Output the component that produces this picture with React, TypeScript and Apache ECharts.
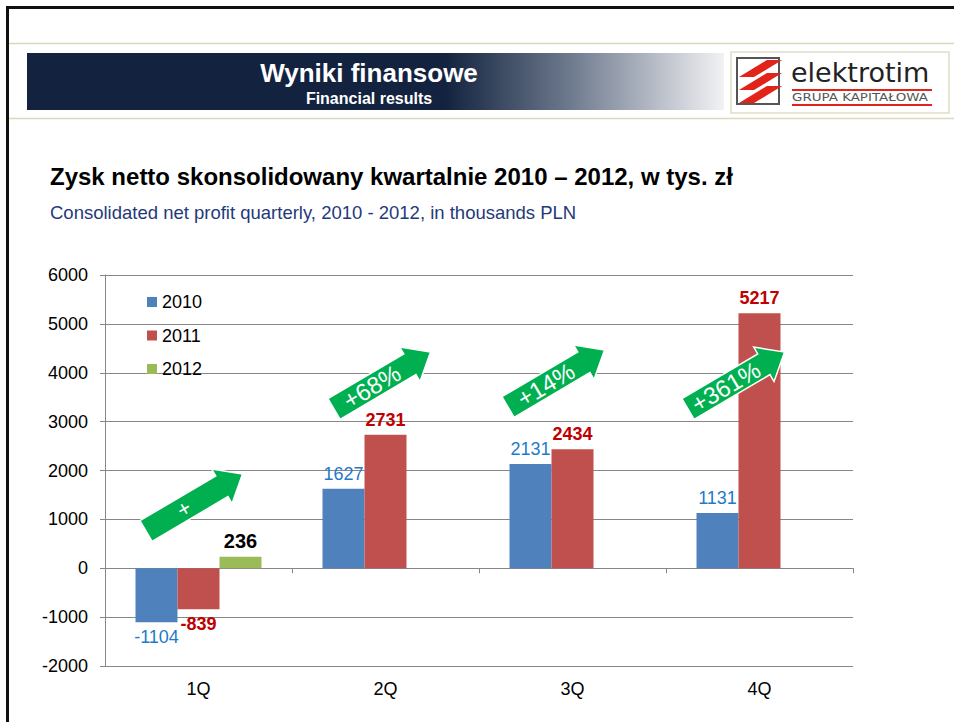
import React, { useEffect, useRef } from "react";
import * as echarts from "echarts";

const categories = ["1Q", "2Q", "3Q", "4Q"];
const seriesNames = ["2010", "2011", "2012"];
const values2010 = [-1104, 1627, 2131, 1131];
const values2011 = [-839, 2731, 2434, 5217];
const values2012: (number | null)[] = [236, null, null, null];
const arrowTexts = ["+", "+68%", "+14%", "+361%"];

const FONT = "'Liberation Sans', Arial, sans-serif";

function arrow(x: number, y: number, text: string, fontSize: number) {
  return {
    type: "group",
    x,
    y,
    rotation: (30.5 * Math.PI) / 180,
    z: 100,
    children: [
      {
        type: "polygon",
        shape: {
          points: [
            [0, -12],
            [88, -12],
            [88, -20],
            [112, 0],
            [88, 20],
            [88, 12],
            [0, 12],
          ],
        },
        style: { fill: "#00B050", stroke: "#ffffff", lineWidth: 1.5 },
        z: 100,
      },
      {
        type: "text",
        x: 44,
        y: 0,
        z: 101,
        style: {
          text,
          fill: "#ffffff",
          fontSize,
          fontFamily: FONT,
          align: "center",
          verticalAlign: "middle",
          textAlign: "center",
          textVerticalAlign: "middle",
        },
      },
    ],
  };
}

export default function App() {
  const ref = useRef<HTMLDivElement>(null);
  useEffect(() => {
    if (!ref.current) return;
    const chart = echarts.init(ref.current, null, { renderer: "svg" });
    const stripes = [60, 73, 86].map((oy) => ({
      type: "polygon",
      shape: {
        points: [
          [739, oy + 17],
          [767, oy],
          [782, oy],
          [754, oy + 17],
        ],
      },
      style: { fill: "#E2231A" },
    }));
    const option = {
      animation: false,
      backgroundColor: "#ffffff",
      textStyle: { fontFamily: FONT },
      grid: { left: 105, right: 101, top: 275, bottom: 56, containLabel: false },
      legend: {
        orient: "vertical",
        left: 142,
        top: 288,
        itemWidth: 10,
        itemHeight: 10,
        itemGap: 15.5,
        icon: "rect",
        data: seriesNames,
        textStyle: { fontSize: 18, color: "#000", lineHeight: 18, fontFamily: FONT },
      },
      xAxis: [
        {
          type: "category",
          data: categories,
          axisLine: { show: false, onZero: false },
          axisTick: { show: false },
          axisLabel: { fontSize: 18, color: "#000", margin: 14, fontFamily: FONT },
        },
        {
          type: "category",
          data: categories,
          position: "bottom",
          axisLine: { show: true, onZero: true, lineStyle: { color: "#868686", width: 1 } },
          axisTick: { show: true, length: 5, lineStyle: { color: "#868686" } },
          axisLabel: { show: false },
          splitLine: { show: false },
        },
      ],
      yAxis: {
        type: "value",
        min: -2000,
        max: 6000,
        interval: 1000,
        axisLine: { show: true, lineStyle: { color: "#868686", width: 1 } },
        axisTick: { show: true, length: 5, lineStyle: { color: "#868686" } },
        axisLabel: {
          fontSize: 18,
          color: "#000",
          margin: 17,
          fontFamily: FONT,
          formatter: (v: number) => String(v),
        },
        splitLine: { show: true, lineStyle: { color: "#868686", width: 1 } },
      },
      series: [
        {
          name: "2010",
          type: "bar",
          xAxisIndex: 0,
          data: values2010,
          barWidth: 42,
          barGap: "0%",
          itemStyle: { color: "#4F81BD" },
          label: {
            show: true,
            position: "outside",
            distance: 6,
            fontSize: 18,
            color: "#1F7AC8",
            fontFamily: FONT,
          },
        },
        {
          name: "2011",
          type: "bar",
          xAxisIndex: 0,
          data: values2011,
          barWidth: 42,
          barGap: "0%",
          itemStyle: { color: "#C0504D" },
          label: {
            show: true,
            position: "outside",
            distance: 6,
            fontSize: 18,
            fontWeight: "bold",
            color: "#C00000",
            fontFamily: FONT,
          },
        },
        {
          name: "2012",
          type: "bar",
          xAxisIndex: 0,
          data: values2012,
          barWidth: 42,
          barGap: "0%",
          itemStyle: { color: "#9BBB59" },
          label: {
            show: true,
            position: "outside",
            distance: 6,
            fontSize: 20,
            fontWeight: "bold",
            color: "#000000",
            fontFamily: FONT,
          },
        },
      ],
      graphic: [
        // page frame
        { type: "line", shape: { x1: 6, y1: 7.5, x2: 954, y2: 7.5 }, style: { stroke: "#111", lineWidth: 3 } },
        { type: "line", shape: { x1: 7.5, y1: 6, x2: 7.5, y2: 722 }, style: { stroke: "#111", lineWidth: 3 } },
        { type: "line", shape: { x1: 9, y1: 43.5, x2: 954, y2: 43.5 }, style: { stroke: "#DCD7BC", lineWidth: 1.5 } },
        { type: "line", shape: { x1: 9, y1: 118.5, x2: 954, y2: 118.5 }, style: { stroke: "#DCD7BC", lineWidth: 1.5 } },
        // banner
        {
          type: "rect",
          shape: { x: 27, y: 53, width: 697, height: 57 },
          style: {
            fill: new echarts.graphic.LinearGradient(0, 0, 1, 0, [
              { offset: 0, color: "#13233F" },
              { offset: 0.6, color: "#13233F" },
              { offset: 0.78, color: "#6E7A8E" },
              { offset: 1, color: "#F2F2F4" },
            ]),
          },
        },
        {
          type: "text",
          x: 369,
          y: 73,
          style: {
            text: "Wyniki finansowe",
            fill: "#ffffff",
            fontSize: 26,
            fontWeight: "bold",
            fontFamily: FONT,
            align: "center",
            verticalAlign: "middle",
            textAlign: "center",
            textVerticalAlign: "middle",
          },
        },
        {
          type: "text",
          x: 369,
          y: 98,
          style: {
            text: "Financial results",
            fill: "#ffffff",
            fontSize: 16,
            fontWeight: "bold",
            fontFamily: FONT,
            align: "center",
            verticalAlign: "middle",
            textAlign: "center",
            textVerticalAlign: "middle",
          },
        },
        // logo
        {
          type: "rect",
          shape: { x: 731, y: 52, width: 218, height: 61 },
          style: { fill: "#ffffff", stroke: "#E2DDC6", lineWidth: 1.5 },
        },
        {
          type: "rect",
          shape: { x: 737, y: 58, width: 42, height: 46 },
          style: { fill: "#ffffff", stroke: "#555555", lineWidth: 2 },
        },
        ...stripes,
        {
          type: "text",
          x: 791,
          y: 86,
          style: {
            text: "elektrotim",
            fill: "#222222",
            fontSize: 27,
            fontFamily: "'DejaVu Sans', sans-serif",
            align: "left",
            verticalAlign: "bottom",
            textAlign: "left",
            textVerticalAlign: "bottom",
          },
        },
        { type: "rect", shape: { x: 792, y: 89, width: 140, height: 2 }, style: { fill: "#E2231A" } },
        {
          type: "text",
          x: 792,
          y: 97.5,
          scaleX: 1.22,
          style: {
            text: "GRUPA KAPITAŁOWA",
            fill: "#555555",
            fontSize: 11,
            fontFamily: "'DejaVu Sans', sans-serif",
            align: "left",
            verticalAlign: "middle",
            textAlign: "left",
            textVerticalAlign: "middle",
          },
        },
        { type: "rect", shape: { x: 792, y: 104, width: 140, height: 2 }, style: { fill: "#E2231A" } },
        // titles
        {
          type: "text",
          x: 50,
          y: 176,
          style: {
            text: "Zysk netto skonsolidowany kwartalnie 2010 – 2012, w tys. zł",
            fill: "#000000",
            fontSize: 24,
            fontWeight: "bold",
            fontFamily: FONT,
            align: "left",
            verticalAlign: "middle",
            textAlign: "left",
            textVerticalAlign: "middle",
          },
        },
        {
          type: "text",
          x: 50,
          y: 212,
          style: {
            text: "Consolidated net profit quarterly, 2010 - 2012, in thousands PLN",
            fill: "#1F3A7A",
            fontSize: 18.5,
            fontFamily: FONT,
            align: "left",
            verticalAlign: "middle",
            textAlign: "left",
            textVerticalAlign: "middle",
          },
        },
        // growth arrows
        arrow(146, 531, arrowTexts[0], 22),
        arrow(334, 409, arrowTexts[1], 24),
        arrow(508, 407, arrowTexts[2], 24),
        arrow(688, 409, arrowTexts[3], 24),
      ],
    };
    chart.setOption(option as any);
    return () => chart.dispose();
  }, []);
  return (
    <div
      ref={ref}
      style={{ position: "absolute", left: 0, top: 0, width: 954, height: 722 }}
    />
  );
}
